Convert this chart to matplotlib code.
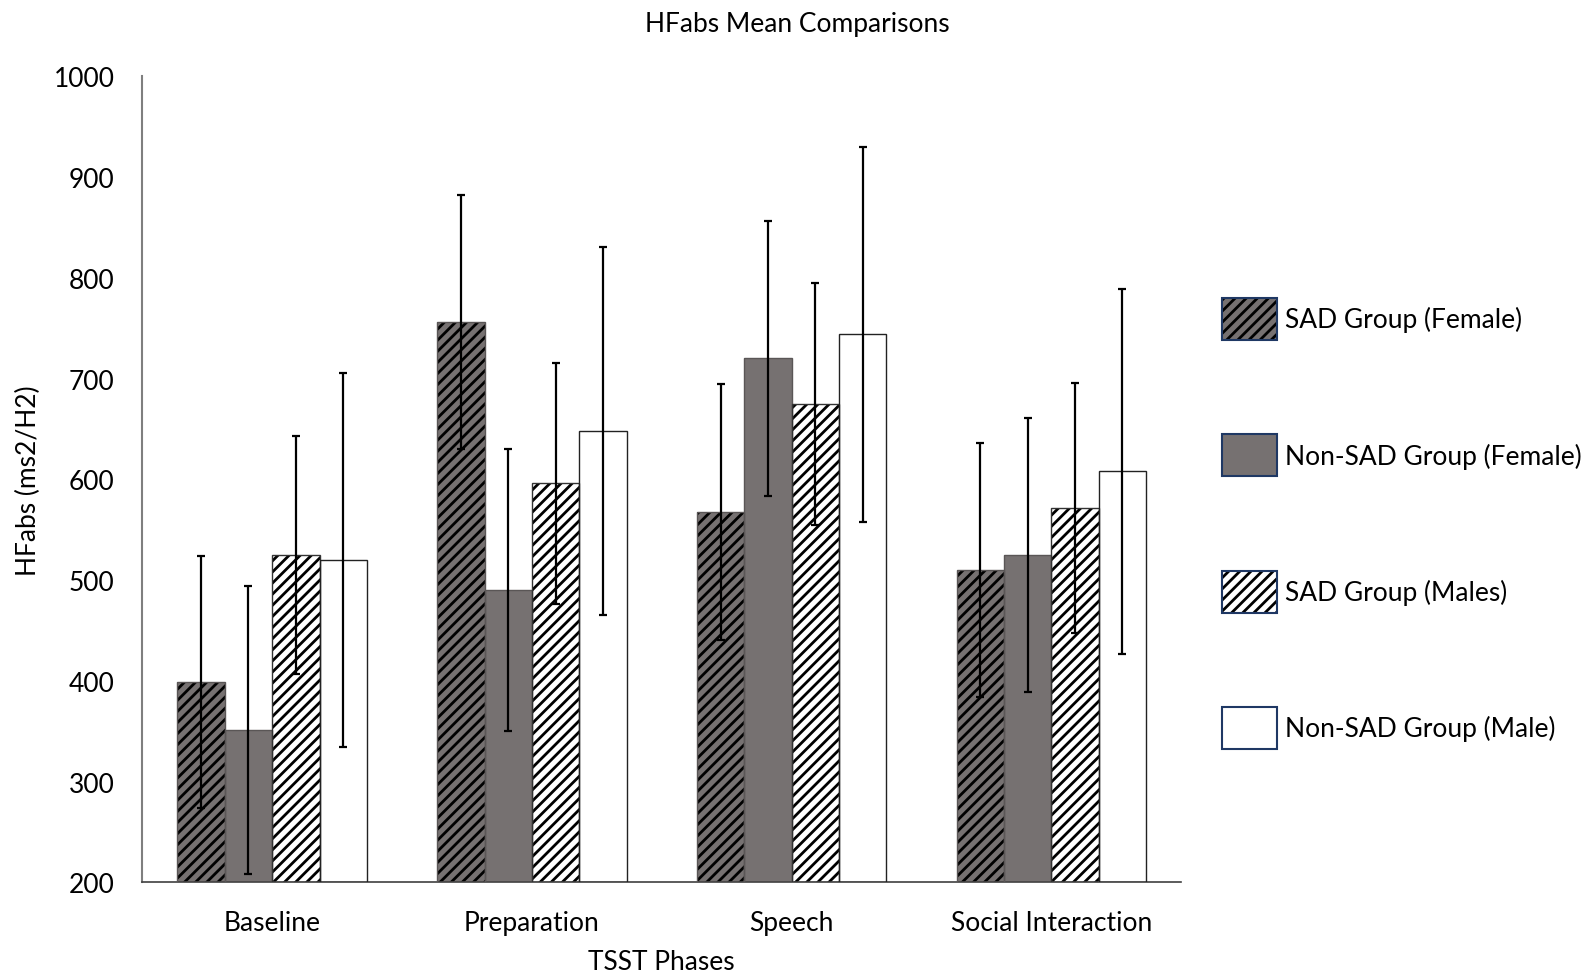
import matplotlib.pyplot as plt
import numpy as np
from matplotlib.patches import Patch

plt.rcParams['font.family'] = ['Lato', 'DejaVu Sans']
plt.rcParams['hatch.linewidth'] = 2.0

phases = ['Baseline', 'Preparation', 'Speech', 'Social Interaction']
groups = ['SAD Group (Female)', 'Non-SAD Group (Female)', 'SAD Group (Males)', 'Non-SAD Group (Male)']

sad_female = [399, 756, 568, 510]
nonsad_female = [351, 490, 720, 525]
sad_male = [525, 596, 675, 572]
nonsad_male = [520, 648, 744, 608]

sad_female_err = [125, 126, 127, 126]
nonsad_female_err = [143, 140, 136, 136]
sad_male_err = [118, 120, 120, 124]
nonsad_male_err = [186, 183, 186, 181]

means = [sad_female, nonsad_female, sad_male, nonsad_male]
errs = [sad_female_err, nonsad_female_err, sad_male_err, nonsad_male_err]
fills = ['#767171', '#767171', 'white', 'white']
hatches = ['///', None, '///', None]
edges = ['#5a5656', '#5a5656', '#333333', '#222222']

fig = plt.figure(figsize=(15.94, 9.79), dpi=100)
ax = fig.add_axes([0.0893, 0.0976, 0.6517, 0.8234])

x = np.arange(len(phases))
w = 0.1825
for i in range(4):
    pos = x + (i - 1.5) * w
    ax.bar(pos, np.array(means[i]) - 200, w, bottom=200, color=fills[i],
           edgecolor='black', linewidth=0, hatch=hatches[i], zorder=2)
    ax.bar(pos, np.array(means[i]) - 200, w, bottom=200, fill=False,
           edgecolor=edges[i], linewidth=1.0, zorder=3)
    ax.errorbar(pos, means[i], yerr=errs[i], fmt='none', ecolor='black',
                elinewidth=1.6, capsize=3, capthick=1.6, zorder=4)

ax.set_xlim(-0.5, 3.5)
ax.set_ylim(200, 1000)
ax.set_yticks(range(200, 1001, 100))
ax.set_xticks(x)
ax.set_xticklabels(phases, fontsize=19)
ax.tick_params(axis='y', labelsize=19, length=0, pad=20)
ax.tick_params(axis='x', length=0, pad=20)
for s in ['top', 'right']:
    ax.spines[s].set_visible(False)
ax.spines['left'].set_color('#7f7f7f')
ax.spines['left'].set_linewidth(1.5)
ax.spines['bottom'].set_color('#404040')
ax.spines['bottom'].set_linewidth(1.2)

ax.set_xlabel('TSST Phases', fontsize=19, labelpad=10)
ax.set_ylabel('HFabs (ms2/H2)', fontsize=19, labelpad=9)
fig.suptitle('HFabs Mean Comparisons', fontsize=19, y=0.988)

# legend: hatch in black, border in navy
handles = [(Patch(facecolor=fills[i], edgecolor='black', hatch=hatches[i], linewidth=0),
            Patch(fill=False, edgecolor='#1f3864', linewidth=1.5))
           for i in range(4)]
fig.legend(handles, groups, loc='upper left', bbox_to_anchor=(0.752, 0.719),
           frameon=False, fontsize=19, handlelength=2.08, handleheight=2.08,
           labelspacing=3.57, handletextpad=0.3)

fig.savefig('out.png', dpi=100)
